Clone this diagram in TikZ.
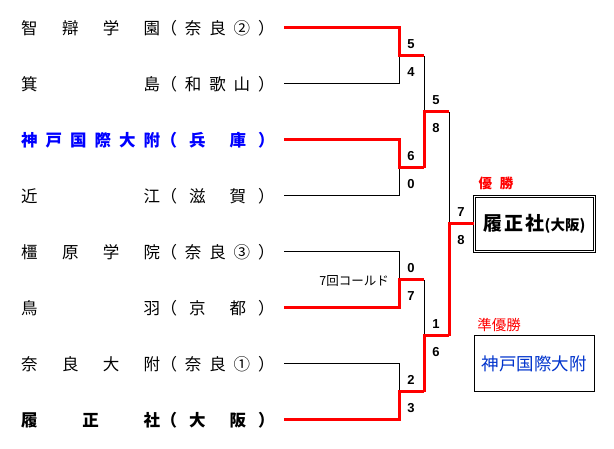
\documentclass[tikz,border=0pt]{standalone}
\usepackage{fontspec}
\setmainfont{Noto Sans CJK JP}
\setsansfont{Liberation Sans}
\usetikzlibrary{positioning}
\definecolor{winred}{RGB}{255,0,0}
\definecolor{kobeblue}{RGB}{0,0,255}
\definecolor{boxblue}{RGB}{0,51,204}
\newcommand{\teamname}[1]{\hbox to 139pt{#1}}
\newcommand{\prefname}[1]{\hbox to 114pt{#1}}
\tikzset{
	team/.style={anchor=west, inner sep=0pt, font=\fontsize{16.5}{16.5}\selectfont},
	win/.style={winred, line width=3pt},
	lose/.style={black, line width=1pt},
	score/.style={inner sep=0pt, font=\sffamily\bfseries\fontsize{13}{13}\selectfont}
}
\begin{document}
\begin{tikzpicture}[x=1pt, y=-1pt]
\useasboundingbox (0,0) rectangle (614,449);
% teams
\node[team] (t1) at (21,28) {\teamname{智\hfil 辯\hfil 学\hfil 園}};
\node[team, right=0pt of t1] (p1) {\prefname{（\hfil 奈\hfil 良\hfil ②\hfil ）}};
\node[team] (t2) at (21,84) {\teamname{箕\hfil 島}};
\node[team, right=0pt of t2] (p2) {\prefname{（\hfil 和\hfil 歌\hfil 山\hfil ）}};
\node[team, kobeblue, font=\fontsize{16.5}{16.5}\selectfont\bfseries] (t3) at (21,140) {\teamname{神\hfil 戸\hfil 国\hfil 際\hfil 大\hfil 附}};
\node[team, kobeblue, font=\fontsize{16.5}{16.5}\selectfont\bfseries, right=0pt of t3] (p3) {\prefname{（\hfil 兵\hfil\hfil 庫\hfil ）}};
\node[team] (t4) at (21,196) {\teamname{近\hfil 江}};
\node[team, right=0pt of t4] (p4) {\prefname{（\hfil 滋\hfil\hfil 賀\hfil ）}};
\node[team] (t5) at (21,252) {\teamname{橿\hfil 原\hfil 学\hfil 院}};
\node[team, right=0pt of t5] (p5) {\prefname{（\hfil 奈\hfil 良\hfil ③\hfil ）}};
\node[team] (t6) at (21,308) {\teamname{鳥\hfil 羽}};
\node[team, right=0pt of t6] (p6) {\prefname{（\hfil 京\hfil\hfil 都\hfil ）}};
\node[team] (t7) at (21,364) {\teamname{奈\hfil 良\hfil 大\hfil 附}};
\node[team, right=0pt of t7] (p7) {\prefname{（\hfil 奈\hfil 良\hfil ①\hfil ）}};
\node[team, font=\fontsize{16.5}{16.5}\selectfont\bfseries] (t8) at (21,420) {\teamname{履\hfil 正\hfil 社}};
\node[team, font=\fontsize{16.5}{16.5}\selectfont\bfseries, right=0pt of t8] (p8) {\prefname{（\hfil 大\hfil\hfil 阪\hfil ）}};
% bracket points
\foreach \i in {1,...,8}
	\coordinate (e\i) at (284,{28+56*(\i-1)});
\foreach \i in {1,...,4}
{
	\coordinate (m\i) at (399,{56+112*(\i-1)});
	\coordinate (n\i) at (424,{56+112*(\i-1)});
}
\coordinate (s1) at (424,112);
\coordinate (s2) at (424,336);
\coordinate (u1) at (449,112);
\coordinate (u2) at (449,336);
\coordinate (f) at (449,224);
% boxes
\node[draw, double, double distance=1.5pt, line width=0.8pt, minimum width=120pt, minimum height=55pt, inner sep=0pt] (champ) at (534.5,224)
	{{\fontsize{19}{19}\selectfont\bfseries 履\hspace{2pt}正\hspace{2pt}社}{\fontsize{14.5}{14.5}\selectfont\bfseries (大阪)}};
\node[draw, line width=1pt, minimum width=120pt, minimum height=56pt, inner sep=0pt, text=boxblue, draw=black, font=\fontsize{17.5}{17.5}\selectfont] (second) at (534,364) {神戸国際大附};
\node[winred, inner sep=0pt, font=\fontsize{13.5}{13.5}\selectfont\bfseries] (winlabel) at (496,183) {優\hspace{8pt}勝};
\node[winred, inner sep=0pt, font=\fontsize{14.5}{14.5}\selectfont] (runlabel) at (499,325) {準優勝};
\node[anchor=east, inner sep=0pt, font=\fontsize{12.5}{12.5}\selectfont] (cold) at (389,281) {7回コールド};
% losers
\draw[lose] (e2) -| (m1);
\draw[lose] (e4) -| (m2);
\draw[lose] (e5) -| (m3);
\draw[lose] (e7) -| (m4);
\draw[lose] (n1) -- (s1);
\draw[lose] (n3) -- (s2);
\draw[lose] (u1) -- (f);
% winners
\draw[win] (e1) -| (m1) -- (n1);
\draw[win] (e3) -| (m2) -- (n2);
\draw[win] (e6) -| (m3) -- (n3);
\draw[win] (e8) -| (m4) -- (n4);
\draw[win] (n2) -- (s1) -- (u1);
\draw[win] (n4) -- (s2) -- (u2);
\draw[win] (u2) -- (f) -- (champ.west);
% scores
\foreach \x/\y/\s [count=\k] in {411/44/5, 411/72/4, 411/156/6, 411/184/0, 411/268/0, 411/296/7, 411/380/2, 411/408/3, 436/100/5, 436/128/8, 436/324/1, 436/352/6, 461/212/7, 461/240/8}
	\node[score] (sc\k) at (\x,\y) {\s};
\end{tikzpicture}
\end{document}
